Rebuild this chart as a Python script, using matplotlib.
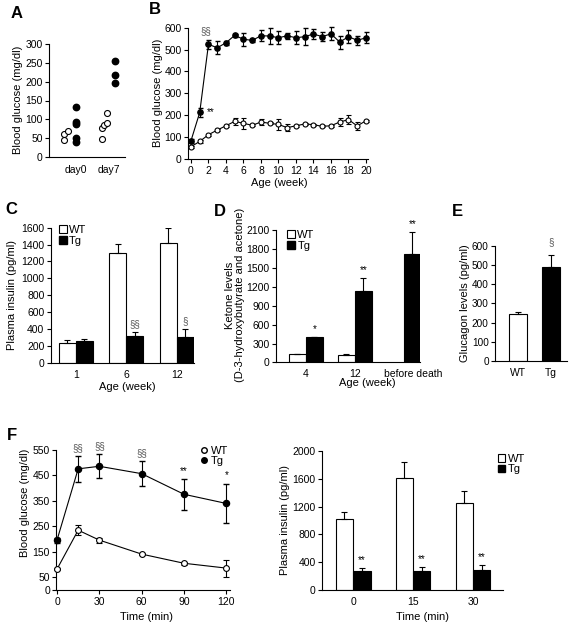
import matplotlib
matplotlib.use("Agg")
import matplotlib.pyplot as plt
from matplotlib.patches import Patch
from matplotlib.lines import Line2D
import numpy as np

plt.rcParams['font.family'] = ['Liberation Sans', 'DejaVu Sans']
plt.rcParams['axes.linewidth'] = 0.8
plt.rcParams['xtick.major.width'] = 0.8
plt.rcParams['ytick.major.width'] = 0.8
plt.rcParams['xtick.major.size'] = 3
plt.rcParams['ytick.major.size'] = 3
plt.rcParams['xtick.labelsize'] = 7.5
plt.rcParams['ytick.labelsize'] = 7.5
plt.rcParams['xtick.major.pad'] = 2
plt.rcParams['ytick.major.pad'] = 1.5

# ---------------- DATA ----------------
# Panel A
a_days = ["day0", "day7"]
a_wt_day0 = [62, 69, 45]
a_tg_day0 = [132, 93, 88, 50, 40]
a_wt_day7 = [49, 76, 85, 89, 116]
a_tg_day7 = [256, 219, 196]

# Panel B
b_weeks = list(range(0, 21))
b_tg = [82, 212, 524, 508, 531, 565, 547, 542, 563, 562, 554, 563, 554, 559, 571, 559, 572, 534, 559, 542, 554]
b_tg_err = [8, 20, 20, 30, 8, 8, 30, 8, 25, 35, 30, 15, 30, 40, 25, 20, 30, 30, 30, 20, 25]
b_wt = [55, 79, 110, 131, 151, 171, 162, 153, 168, 162, 157, 142, 151, 159, 156, 148, 151, 168, 179, 150, 174]
b_wt_err = [5, 5, 5, 5, 5, 15, 25, 5, 15, 5, 25, 15, 5, 5, 5, 5, 5, 20, 20, 20, 5]

# Panel C
c_ages = ["1", "6", "12"]
c_wt = [229, 1300, 1416]
c_wt_err = [40, 104, 180]
c_tg = [262, 320, 304]
c_tg_err = [15, 40, 92]
c_marks = ["", "§§", "§"]

# Panel D
d_ages = ["4", "12", "before death"]
d_wt = [139, 117, np.nan]
d_wt_err = [0, 20, 0]
d_tg = [406, 1132, 1724]
d_tg_err = [0, 213, 347]
d_marks = ["*", "**", "**"]

# Panel E
e_groups = ["WT", "Tg"]
e_vals = [244, 490]
e_err = [9, 61]

# Panel F left
f_time = [0, 15, 30, 60, 90, 120]
f_tg = [196, 476, 486, 457, 376, 340]
f_tg_err = [10, 50, 47, 50, 60, 78]
f_wt = [82, 235, 196, 141, 105, 86]
f_wt_err = [5, 20, 10, 5, 5, 33]
f_marks = ["", "§§", "§§", "§§", "**", "*"]

# Panel F right
fr_time = ["0", "15", "30"]
fr_wt = [1017, 1607, 1257]
fr_wt_err = [110, 230, 163]
fr_tg = [273, 273, 293]
fr_tg_err = [48, 53, 62]
fr_marks = ["**", "**", "**"]

# ---------------- FIGURE ----------------
W, H = 569, 626
fig = plt.figure(figsize=(W / 100, H / 100), dpi=100)


def ax_px(l, t, r, b):
    ax = fig.add_axes([l / W, 1 - b / H, (r - l) / W, (b - t) / H])
    ax.spines['top'].set_visible(False)
    ax.spines['right'].set_visible(False)
    ax.tick_params(direction='out')
    return ax


def txt(x, y, s, **kw):
    fig.text(x / W, 1 - y / H, s, **kw)


def letter(x, y, s):
    txt(x, y, s, fontsize=12, fontweight='bold', ha='center', va='center')


LBL = 8
ERR = dict(ecolor='black', elinewidth=0.8, capsize=2.2, capthick=0.8)

# ---- A ----
axA = ax_px(49, 44, 125, 157)
axA.set_ylim(0, 300)
axA.set_xlim(-0.82, 1.48)
axA.set_yticks(range(0, 301, 50))
axA.set_xticks([0, 1])
axA.set_xticklabels(a_days)
axA.tick_params(axis='x', length=0, pad=6)
wt0_off = [-0.36, -0.24, -0.36]
wt7_off = [-0.21, -0.21, -0.15, -0.06, -0.06]
axA.plot(np.zeros(len(a_wt_day0)) + wt0_off, a_wt_day0, 'o', mfc='white', mec='black', ms=4.3, mew=0.8, clip_on=False)
axA.plot(np.zeros(len(a_tg_day0)), a_tg_day0, 'o', color='black', ms=4.6, clip_on=False)
axA.plot(np.ones(len(a_wt_day7)) + wt7_off, a_wt_day7, 'o', mfc='white', mec='black', ms=4.3, mew=0.8, clip_on=False)
axA.plot(np.ones(len(a_tg_day7)) + 0.17, a_tg_day7, 'o', color='black', ms=4.6, clip_on=False)
txt(18, 100, "Blood glucose (mg/dl)", rotation=90, ha='center', va='center', fontsize=LBL)
letter(17, 13, "A")

# ---- B ----
axB = ax_px(188, 27.7, 368, 158.7)
axB.set_ylim(0, 600)
axB.set_xlim(-0.34, 20.23)
axB.set_xticks(range(0, 21, 2))
axB.set_yticks(range(0, 601, 100))
axB.errorbar(b_weeks, b_wt, yerr=b_wt_err, fmt='-o', color='black', mfc='white', mec='black',
             ms=3.6, mew=0.8, lw=0.8, elinewidth=0.8, capsize=1.8, zorder=3, clip_on=False)
axB.errorbar(b_weeks, b_tg, yerr=b_tg_err, fmt='-o', color='black', ms=3.8, lw=0.8,
             elinewidth=0.8, capsize=1.8, zorder=4, clip_on=False)
axB.text(1.75, 560, "§§", fontsize=7, color='#555555', ha='center', va='bottom')
axB.text(2.3, 214, "**", fontsize=7, ha='center', va='center')
txt(158, 93, "Blood glucose (mg/dl)", rotation=90, ha='center', va='center', fontsize=LBL)
txt(279, 183, "Age (week)", ha='center', va='center', fontsize=LBL)
letter(155, 10, "B")

# ---- C ----
axC = ax_px(50.7, 227.7, 194, 362.7)
axC.set_ylim(0, 1600)
axC.set_xlim(-0.5, 2.34)
axC.set_yticks(range(0, 1601, 200))
xc = np.arange(len(c_ages))
bw = 0.335
axC.bar(xc - bw / 2, c_wt, bw, color='white', edgecolor='black', lw=0.8,
        yerr=[np.zeros(3), c_wt_err], error_kw=ERR)
axC.bar(xc + bw / 2, c_tg, bw, color='black', edgecolor='black', lw=0.8,
        yerr=[np.zeros(3), c_tg_err], error_kw=ERR)
for i, m in enumerate(c_marks):
    if m:
        axC.text(xc[i] + bw / 2, c_tg[i] + c_tg_err[i] + 40, m, fontsize=7, color='#555555',
                 ha='center', va='bottom')
axC.set_xticks(xc)
axC.set_xticklabels(c_ages)
axC.tick_params(axis='x', length=0, pad=5)
axC.legend(handles=[Patch(fc='white', ec='black', lw=0.8, label='WT'),
                    Patch(fc='black', ec='black', label='Tg')],
           loc='upper left', bbox_to_anchor=(0.02, 1.06), frameon=False, fontsize=8,
           handlelength=0.7, handleheight=0.7, handletextpad=0.2, labelspacing=0.05, borderpad=0)
txt(12, 295, "Plasma insulin (pg/ml)", rotation=90, ha='center', va='center', fontsize=LBL)
txt(127, 387, "Age (week)", ha='center', va='center', fontsize=LBL)
letter(11, 210, "C")

# ---- D ----
axD = ax_px(276, 230, 420, 362.5)
axD.set_ylim(0, 2100)
axD.set_xlim(-0.61, 2.33)
axD.set_yticks(range(0, 2101, 300))
xd = np.arange(len(d_ages))
bwd = 0.35
axD.bar(xd - bwd / 2, d_wt, bwd, color='white', edgecolor='black', lw=0.8,
        yerr=[np.zeros(3), d_wt_err], error_kw=ERR)
axD.bar(xd + bwd / 2, d_tg, bwd, color='black', edgecolor='black', lw=0.8,
        yerr=[np.zeros(3), d_tg_err], error_kw=ERR)
for i, m in enumerate(d_marks):
    axD.text(xd[i] + bwd / 2, d_tg[i] + d_tg_err[i] + 40, m, fontsize=7, ha='center', va='bottom')
axD.set_xticks(xd + np.array([0, 0, 0.2]))
axD.set_xticklabels(d_ages)
axD.tick_params(axis='x', length=0, pad=5)
axD.legend(handles=[Patch(fc='white', ec='black', lw=0.8, label='WT'),
                    Patch(fc='black', ec='black', label='Tg')],
           loc='upper left', bbox_to_anchor=(0.04, 1.04), frameon=False, fontsize=8,
           handlelength=0.7, handleheight=0.7, handletextpad=0.2, labelspacing=0.05, borderpad=0)
txt(235, 295, "Ketone levels\n(D-3-hydroxybutyrate and acetone)", rotation=90, ha='center',
    va='center', fontsize=LBL, multialignment='center', linespacing=1.1)
txt(367, 383, "Age (week)", ha='center', va='center', fontsize=LBL)
letter(220, 211, "D")

# ---- E ----
axE = ax_px(495, 245.7, 567, 361)
axE.set_ylim(0, 600)
axE.set_xlim(-0.7, 1.48)
axE.set_yticks(range(0, 601, 100))
xe = np.arange(len(e_groups))
axE.bar(xe, e_vals, 0.55, color=['white', 'black'], edgecolor='black', lw=0.8,
        yerr=[np.zeros(2), e_err], error_kw=ERR)
axE.text(1, 590, "§", fontsize=7, color='#555555', ha='center', va='bottom')
axE.set_xticks(xe)
axE.set_xticklabels(e_groups)
axE.tick_params(axis='x', length=0, pad=5)
axE.tick_params(axis='y', labelsize=7.2)
txt(465, 303, "Glucagon levels (pg/ml)", rotation=90, ha='center', va='center', fontsize=LBL)
letter(457, 212, "E")

# ---- F left ----
axF = ax_px(56.3, 450, 230, 590)
axF.set_ylim(0, 550)
axF.set_xlim(-0.5, 122.6)
axF.set_yticks([0, 50, 150, 250, 350, 450, 550])
axF.set_xticks([0, 30, 60, 90, 120])
axF.errorbar(f_time, f_wt, yerr=f_wt_err, fmt='-o', color='black', mfc='white', mec='black',
             ms=4.2, mew=0.8, lw=0.8, elinewidth=0.8, capsize=2, zorder=3, clip_on=False)
axF.errorbar(f_time, f_tg, yerr=f_tg_err, fmt='-o', color='black', ms=4.4, lw=0.8,
             elinewidth=0.8, capsize=2, zorder=4, clip_on=False)
for i, m in enumerate(f_marks):
    if m:
        col = '#555555' if '§' in m else 'black'
        axF.text(f_time[i], f_tg[i] + f_tg_err[i] + 12, m, fontsize=7, color=col,
                 ha='center', va='bottom')
axF.legend(handles=[Line2D([], [], ls='none', marker='o', mfc='white', mec='black', ms=4, label='WT'),
                    Line2D([], [], ls='none', marker='o', color='black', ms=4, label='Tg')],
           loc='upper right', bbox_to_anchor=(1.02, 1.07), frameon=False, fontsize=8,
           handlelength=0.6, handletextpad=0.3, labelspacing=0.05, borderpad=0)
txt(25, 503, "Blood glucose (mg/dl)", rotation=90, ha='center', va='center', fontsize=LBL)
txt(147, 617, "Time (min)", ha='center', va='center', fontsize=LBL)
letter(12, 435, "F")

# ---- F right ----
axR = ax_px(322, 451, 503, 590)
axR.set_ylim(0, 2000)
axR.set_xlim(-0.52, 2.5)
axR.set_yticks(range(0, 2001, 400))
xr = np.arange(len(fr_time))
bwr = 0.29
axR.bar(xr - bwr / 2, fr_wt, bwr, color='white', edgecolor='black', lw=0.8,
        yerr=[np.zeros(3), fr_wt_err], error_kw=ERR)
axR.bar(xr + bwr / 2, fr_tg, bwr, color='black', edgecolor='black', lw=0.8,
        yerr=[np.zeros(3), fr_tg_err], error_kw=ERR)
for i, m in enumerate(fr_marks):
    axR.text(xr[i] + bwr / 2, fr_tg[i] + fr_tg_err[i] + 40, m, fontsize=7, ha='center', va='bottom')
axR.set_xticks(xr)
axR.set_xticklabels(fr_time)
axR.tick_params(axis='x', length=0, pad=5)
axR.legend(handles=[Patch(fc='white', ec='black', lw=0.8, label='WT'),
                    Patch(fc='black', ec='black', label='Tg')],
           loc='upper left', bbox_to_anchor=(0.94, 1.02), frameon=False, fontsize=8,
           handlelength=0.7, handleheight=0.7, handletextpad=0.2, labelspacing=0.05, borderpad=0)
txt(285, 520, "Plasma insulin (pg/ml)", rotation=90, ha='center', va='center', fontsize=LBL)
txt(422, 617, "Time (min)", ha='center', va='center', fontsize=LBL)

fig.savefig("out.png", dpi=100)
